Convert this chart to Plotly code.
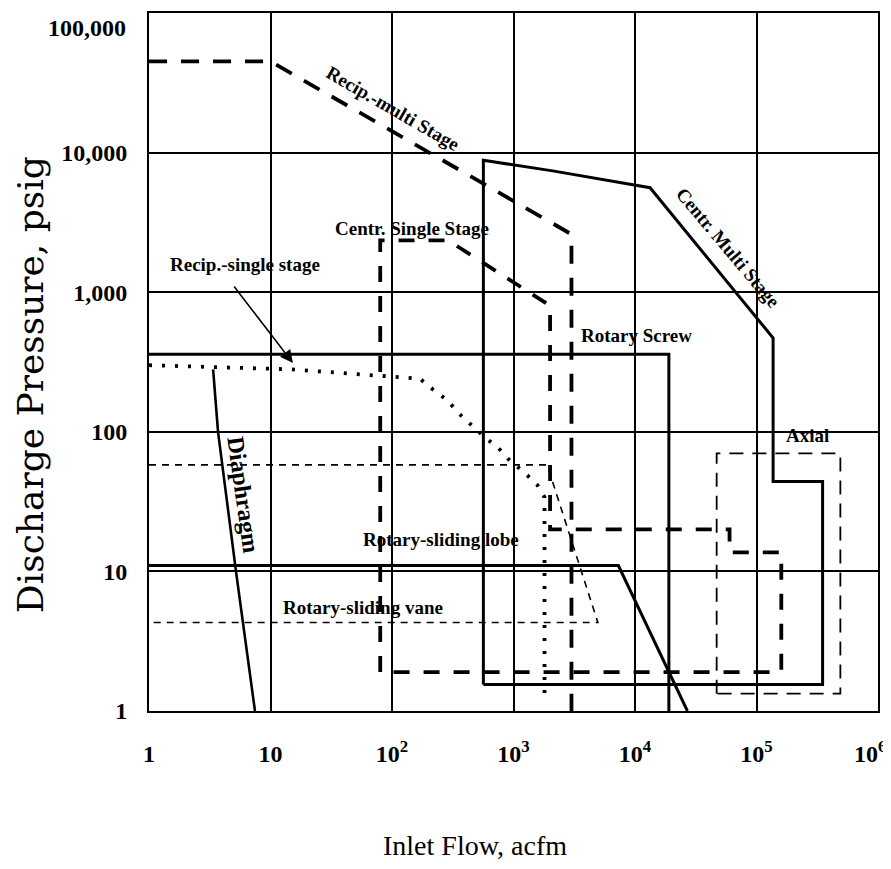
import plotly.graph_objects as go
import numpy as np

# ---------------- data (inlet flow acfm, discharge pressure psig) ----------------
recip_multi_x = [1, 10, 3000, 3000]
recip_multi_y = [45000, 45000, 2600, 1]

centr_single_x = [80, 80, 290, 2000, 2000, 60000, 60000, 160000, 160000, 80]
centr_single_y = [1.9, 2350, 2350, 800, 20, 20, 13.7, 13.7, 1.9, 1.9]

centr_multi_x = [565, 565, 2100, 13300, 137000, 137000, 350000, 350000, 565]
centr_multi_y = [1.55, 8800, 7400, 5600, 470, 44, 44, 1.55, 1.55]

rotary_screw_x = [1, 19000, 19000]
rotary_screw_y = [360, 360, 1]

recip_single_x = [1, 15, 170, 217, 284, 356, 464, 583, 745, 936, 1200, 1560, 1800, 1800]
recip_single_y = [300, 280, 240, 201, 169, 135, 109, 91, 77, 62, 52, 42, 34, 1.3]

diaphragm_x = [3.37, 3.7, 5.2, 7.45]
diaphragm_y = [280, 100, 10, 1]

lobe_x = [1, 7300, 27000]
lobe_y = [11, 11, 1]

vane_x = [1, 1890, 4950, 1]
vane_y = [58, 58, 4.3, 4.3]

axial_x = [47000, 47000, 490000, 490000, 47000]
axial_y = [1.33, 70, 70, 1.33, 1.33]

x_tickvals = [1, 10, 100, 1000, 10000, 100000, 1000000]
x_ticktext = ["1", "10", "10<sup>2</sup>", "10<sup>3</sup>", "10<sup>4</sup>",
              "10<sup>5</sup>", ""]
x_last_label = "10<sup>6</sup>"
y_tickvals = [1, 10, 100, 1000, 10000, 100000]
y_ticktext = ["1", "10", "100", "1,000", "10,000", ""]
y_top_label = "100,000"

label_text = ["Recip.-multi Stage", "Centr. Single Stage", "Recip.-single stage",
              "Rotary Screw", "Diaphragm", "Rotary-sliding lobe",
              "Rotary-sliding vane", "Axial", "Centr. Multi Stage"]
label_x = [102, 146, 6.2, 10200, 5.95, 253, 57.7, 265000, 58200]
label_y = [20800, 2880, 1570, 493, 35.8, 16.8, 5.47, 94.8, 2080]
label_angle = [30, 0, 0, 0, 82, 0, 0, 0, 50]

# ---------------- figure ----------------
fig = go.Figure()

def add(xs, ys, width, dash):
    fig.add_trace(go.Scatter(x=xs, y=ys, mode="lines",
                             line=dict(color="black", width=width, dash=dash),
                             hoverinfo="skip", showlegend=False))

add(vane_x, vane_y, 1.6, "7px,6px")
add(axial_x, axial_y, 1.8, "14px,9px")
add(recip_single_x, recip_single_y, 3.8, "3px,10px")
add(recip_multi_x, recip_multi_y, 3.8, "18px,14px")
add(centr_single_x, centr_single_y, 3.8, "16px,14px")
add(centr_multi_x, centr_multi_y, 3, "solid")
add(rotary_screw_x, rotary_screw_y, 3, "solid")
add(diaphragm_x, diaphragm_y, 2.6, "solid")
add(lobe_x, lobe_y, 3, "solid")

serif = "Liberation Serif, Times New Roman, serif"
for t, x, y, a in zip(label_text, label_x, label_y, label_angle):
    size = 24 if t == "Diaphragm" else 19
    fig.add_annotation(x=np.log10(x), y=np.log10(y), text="<b>" + t + "</b>",
                       showarrow=False, textangle=a,
                       font=dict(family=serif, size=size, color="black"),
                       xref="x", yref="y", xanchor="center", yanchor="middle")

# arrow for Recip.-single stage
fig.add_annotation(x=np.log10(15.3), y=np.log10(311), ax=-60, ay=-78,
                   xref="x", yref="y", text="", showarrow=True,
                   arrowhead=2, arrowsize=1.6, arrowwidth=1.6, arrowcolor="black")

tick_font = dict(family=serif, size=24, color="black", weight=700)

# edge tick labels placed as in the original (kept inside the page)
fig.add_annotation(x=-0.029, y=0.9785, xref="paper", yref="paper",
                   text=y_top_label, showarrow=False, xanchor="right", yanchor="middle",
                   font=tick_font)
fig.add_annotation(x=1.014, y=-0.0587, xref="paper", yref="paper",
                   text=x_last_label, showarrow=False, xanchor="right", yanchor="middle",
                   font=tick_font)

# axis titles
fig.add_annotation(x=-0.163, y=0.467, xref="paper", yref="paper",
                   text="Discharge Pressure, psig", textangle=-90, showarrow=False,
                   xanchor="center", yanchor="middle",
                   font=dict(family="DejaVu Serif, serif", size=36, color="black"))
fig.add_annotation(x=0.447, y=-0.192, xref="paper", yref="paper",
                   text="Inlet Flow, acfm", showarrow=False,
                   xanchor="center", yanchor="middle",
                   font=dict(family=serif, size=28, color="black"))

fig.update_xaxes(type="log", range=[0, 6], tickvals=x_tickvals, ticktext=x_ticktext,
                 showgrid=True, gridcolor="black", gridwidth=1.8,
                 showline=True, linecolor="black", linewidth=2, mirror=True,
                 ticks="", tickfont=tick_font, ticklabelstandoff=20, zeroline=False,
                 automargin=False, ticklabeloverflow="allow")
fig.update_yaxes(type="log", range=[0, 5], tickvals=y_tickvals, ticktext=y_ticktext,
                 showgrid=True, gridcolor="black", gridwidth=1.8,
                 showline=True, linecolor="black", linewidth=2, mirror=True,
                 ticks="", tickfont=tick_font, ticklabelstandoff=15, zeroline=False,
                 automargin=False, ticklabeloverflow="allow")

# the page body adds an 8px margin, so the figure is sized to fit inside it
fig.update_layout(width=883, height=861, autosize=False,
                  margin=dict(l=141, r=13, t=5, b=158),
                  paper_bgcolor="white", plot_bgcolor="white", showlegend=False)

fig.write_html("out.html")
